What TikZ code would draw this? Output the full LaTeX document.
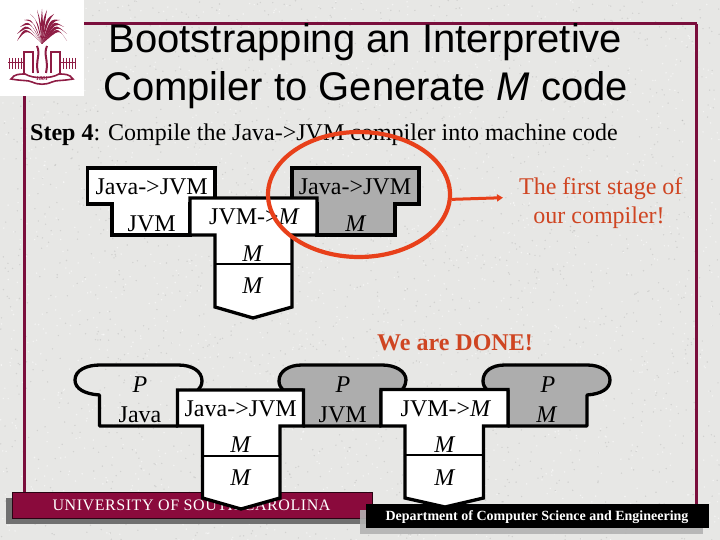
\documentclass[tikz,border=0pt]{standalone}
\usepackage{fontspec}
\setmainfont{Liberation Serif}
\newfontfamily\titlefont{Liberation Sans}
\newfontfamily\barfont[LetterSpace=3.5]{Liberation Serif}
\usetikzlibrary{shapes.geometric,arrows.meta}
\definecolor{pagebg}{HTML}{E7E7E5}
\definecolor{maroon}{HTML}{8A0A3C}
\definecolor{framec}{HTML}{7A0E3C}
\definecolor{logoc}{HTML}{8E1C44}
\definecolor{tgray}{HTML}{ADADAD}
\definecolor{redline}{HTML}{E8401A}
\definecolor{redtext}{HTML}{CF4522}
\tikzset{
  txt/.style={anchor=base,inner sep=0pt,font=\fontsize{24}{28}\selectfont},
  ttl/.style={anchor=base,inner sep=0pt,font=\titlefont\fontsize{40}{46}\selectfont},
  tw/.style={draw=black,line width=3.3pt,fill=white,line join=miter},
  tg/.style={draw=black,line width=3.3pt,fill=tgray,line join=miter},
  tn/.style={draw=black,line width=3.3pt,line join=round},
  sep/.style={draw=black,line width=2.8pt},
  frameline/.style={draw=framec,line width=3pt},
}
\begin{document}
\begin{tikzpicture}[x=1pt,y=-1pt]
\useasboundingbox (0,0) rectangle (720,540);
\fill[pagebg] (0,0) rectangle (720,540);
% paper texture
\pgfmathsetseed{7}
\foreach \i in {1,...,1800}{
  \pgfmathsetmacro{\xx}{rnd*720}
  \pgfmathsetmacro{\yy}{rnd*540}
  \fill[white,opacity=.55] (\xx,\yy) circle (.8);
  \pgfmathsetmacro{\xb}{rnd*720}
  \pgfmathsetmacro{\yb}{rnd*540}
  \fill[black,opacity=.09] (\xb,\yb) circle (.8);
}
% frame
\draw[frameline] (84,24) -- (697,24);
\draw[frameline] (696,24) -- (696,505);
\draw[frameline] (24,96) -- (24,493);
% logo
\fill[white] (0,0) rectangle (84,96);
\begin{scope}[logoc]
  % fronds: tapered leaves that droop outward from the crown
  \foreach \tx/\ty/\cx/\cy in {
    17/41/26/27, 17/34/28/24, 20/27/30/21, 24/20/33/20, 30/14/37/20, 37/10/40/20, 42/9/42/20,
    47/10/44/20, 54/14/47/20, 60/20/51/20, 64/27/54/21, 67/34/56/24, 67/41/58/27}{
    \fill (42,44) .. controls (\cx-1.2,\cy-1.4) and (\cx-1,\cy-1) .. (\tx,\ty) .. controls (\cx+1,\cy+1.6) and (\cx+1.4,\cy+1.8) .. (42,44);
  }
  \draw[line width=1.8pt] (24,73) -- (24,52) -- (33,52) -- (33,73);
  \draw[line width=1.8pt] (51,73) -- (51,52) -- (60,52) -- (60,73);
  \draw[line width=2pt] (37,46) .. controls (41,55) and (35,60) .. (38,73);
  \draw[line width=2pt] (47,46) .. controls (43,55) and (49,60) .. (46,73);
  \foreach \x in {9,12,15,18,21,63,66,69,72,75}{
    \draw[line width=1pt] (\x,58) -- (\x,69);
  }
  \draw[line width=1pt] (8,63) -- (24,63) (60,63) -- (76,63);
  \draw[line width=1.6pt] (11,79) .. controls (14,74) and (20,74) .. (25,74) .. controls (33,79) and (51,79) .. (59,74) .. controls (64,74) and (70,74) .. (73,79) .. controls (62,81) and (56,80) .. (52,82) .. controls (45,85) and (39,85) .. (32,82) .. controls (28,80) and (22,81) .. (11,79) -- cycle;
  \node[anchor=base,inner sep=0pt,font=\itshape\bfseries\fontsize{6}{6}\selectfont,text=logoc] (year) at (42,81) {1801};
\end{scope}
% title
\node[ttl] (title1) at (365.5,53) {Bootstrapping an Interpretive};
\node[ttl] (title2) at (365.5,101) {Compiler to Generate \textit{M} code};
% step
\node[txt,anchor=base west] (stepline) at (30,141) {\textbf{Step 4}: Compile the Java->JVM compiler into machine code};
% top T diagram
\draw[tw] (87.5,168) -- (215,168) -- (215,204) -- (190,204) -- (190,235) -- (112,235) -- (112,204) -- (87.5,204) -- cycle;
\draw[tg] (292,168) -- (419,168) -- (419,204) -- (395,204) -- (395,235) -- (317,235) -- (317,204) -- (292,204) -- cycle;
\draw[tw] (190,198) -- (317,198) -- (317,235) -- (292,235) -- (292,307) -- (253,318) -- (215,307) -- (215,235) -- (190,235) -- cycle;
\draw[sep] (215,264) -- (292,264);
\node[txt] (a1) at (151.7,195) {Java->JVM};
\node[txt] (a2) at (151.7,231) {JVM};
\node[txt] (b1) at (254.5,225) {JVM->\textit{M}};
\node[txt] (b2) at (253,261) {\textit{M}};
\node[txt] (b3) at (253,293) {\textit{M}};
\node[txt] (c1) at (355,195) {Java->JVM};
\node[txt] (c2) at (356,231) {\textit{M}};
% highlight
\node[ellipse,draw=redline,line width=4.2pt,minimum width=182pt,minimum height=125pt,inner sep=0pt] (ring) at (359,194.5) {};
\coordinate (tip) at (503,197.7);
\draw[redline,line width=3pt,-{Triangle[length=6pt,width=7pt]}] (ring.-3) -- (tip);
\node[txt,text=redtext] (note1) at (600.8,195) {The first stage of};
\node[txt,text=redtext] (note2) at (599,223) {our compiler!};
\node[txt,text=redtext,font=\bfseries\fontsize{24}{28}\selectfont] (done) at (455,350) {We are DONE!};
% footer bars
\fill[black!56] (6,498) rectangle (366,524);
\fill[maroon] (12,492.5) rectangle (372.5,518);
\draw[black!70!maroon,line width=.6pt] (12,492.5) rectangle (372.5,518);
\fill[black!30,opacity=.9] (360,510) rectangle (703,534);
\fill[black] (366,504) rectangle (709,528);
\node[anchor=base,inner sep=0pt,text=white,font=\barfont\fontsize{16}{18}\selectfont] (usc) at (191.5,510.5) {UNIVERSITY OF SOUTH CAROLINA};
\node[anchor=base,inner sep=0pt,text=white,font=\bfseries\fontsize{14}{18}\selectfont] (dept) at (537,520.5) {Department of Computer Science and Engineering};
% bottom diagrams
\draw[tn] (178,426) -- (99.5,426) -- (99.5,395) .. controls (85,394) and (75,389) .. (75,380) .. controls (75,370) and (87,365) .. (100,365) -- (178,365) .. controls (192,365) and (202,371) .. (202,381) .. controls (202,385) and (200,388) .. (198,390);
\draw[tg,line join=round] (303,426) -- (381,426) -- (381,390) -- (402,390) .. controls (405,386) and (406,383) .. (406,380) .. controls (406,371) and (395,365) .. (382,365) -- (302,365) .. controls (289,365) and (279,371) .. (279,381) .. controls (279,385) and (281,388) .. (283,390) -- (303,390) -- cycle;
\draw[tg,line join=round] (508,426) -- (587,426) -- (587,395) .. controls (601,394) and (610,389) .. (610,380) .. controls (610,371) and (600,365) .. (587,365) -- (505,365) .. controls (492,365) and (483,371) .. (483,381) .. controls (483,385) and (485,388) .. (487,390) -- (508,390) -- cycle;
\draw[tw] (177.5,390) -- (303.5,390) -- (303.5,426) -- (280,426) -- (280,498) -- (241,509) -- (202.5,498) -- (202.5,426) -- (177.5,426) -- cycle;
\draw[sep] (202.5,456) -- (280,456);
\draw[tw] (381,389.5) -- (508,389.5) -- (508,426) -- (483.5,426) -- (483.5,498) -- (445,507) -- (405,498) -- (405,426) -- (381,426) -- cycle;
\draw[sep] (405,455) -- (483.5,455);
\node[txt] (p1) at (140,392.7) {\textit{P}};
\node[txt] (p1b) at (140,422.7) {Java};
\node[txt] (d1) at (240.7,416.7) {Java->JVM};
\node[txt] (d2) at (241,452.7) {\textit{M}};
\node[txt] (d3) at (241,485.7) {\textit{M}};
\node[txt] (p2) at (343,392.7) {\textit{P}};
\node[txt] (p2b) at (342.7,422.7) {JVM};
\node[txt] (e1) at (446,416.7) {JVM->\textit{M}};
\node[txt] (e2) at (445,452.7) {\textit{M}};
\node[txt] (e3) at (445,485.7) {\textit{M}};
\node[txt] (p3) at (548,392.7) {\textit{P}};
\node[txt] (p3b) at (547,422.7) {\textit{M}};
\end{tikzpicture}
\end{document}
